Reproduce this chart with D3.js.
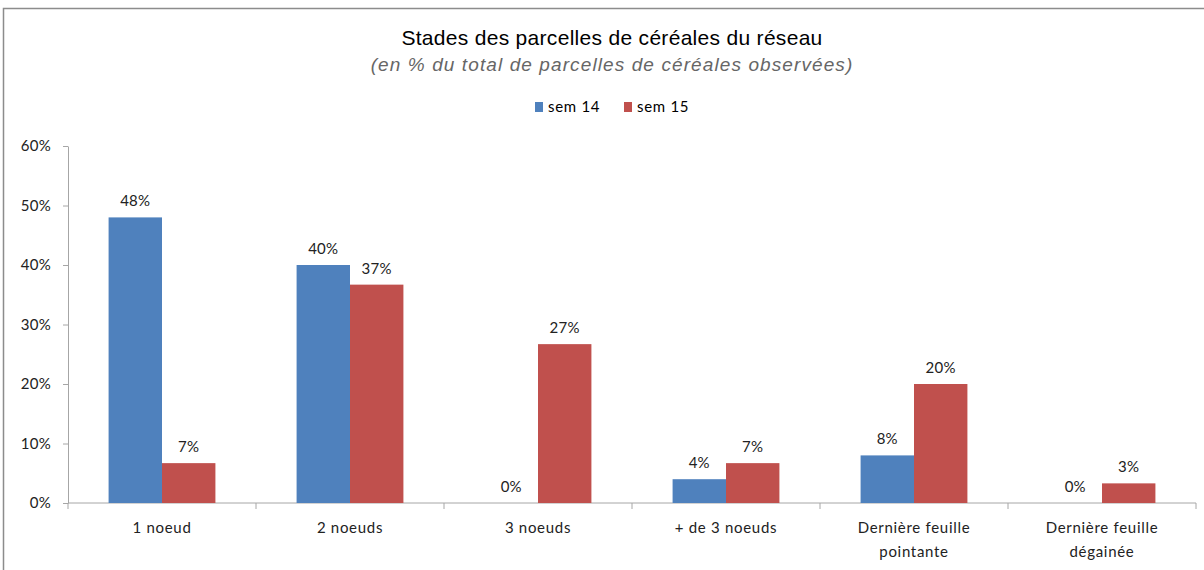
<!DOCTYPE html>
<html><head><meta charset="utf-8">
<script src="https://cdn.jsdelivr.net/npm/d3@7"></script>
<style>body{margin:0;background:#fff;}svg{display:block;}</style>
</head><body>
<svg id="c" width="1204" height="570"></svg>
<script>
const categories = [["1 noeud"],["2 noeuds"],["3 noeuds"],["+ de 3 noeuds"],["Dernière feuille","pointante"],["Dernière feuille","dégainée"]];
const seriesNames = ["sem 14","sem 15"];
const sem14 = [48, 40, 0, 4, 8, 0];
const sem15 = [6.7, 36.7, 26.7, 6.7, 20, 3.3];
const yTicks = [0,10,20,30,40,50,60];
const colors = ["#4F81BD","#C0504D"];

(function(){
const svg = d3.select("#c");
const font = "Liberation Sans Narrow, Arial Narrow, sans-serif";
const lfont = "Lato, 'Open Sans', sans-serif";
const ls = "0.7px";
// border
svg.append("rect").attr("x",3.5).attr("y",8.5).attr("width",1210).attr("height",600)
  .attr("fill","none").attr("stroke","#8c8c8c").attr("stroke-width",1.5);

const pL=68, pR=1196, pT=146, pB=503;
const x = d3.scaleBand().domain(d3.range(categories.length)).range([pL,pR]).paddingInner(0).paddingOuter(0);
const y = d3.scaleLinear().domain([0,60]).range([pB,pT]);
const inner = d3.scaleBand().domain([0,1]).range([0,x.bandwidth()]).paddingOuter(0.76).paddingInner(0);

// title
svg.append("text").attr("x",612).attr("y",45).attr("text-anchor","middle")
  .style("font-family",font).style("font-size","21px").style("letter-spacing","0.3px").attr("fill","#000")
  .text("Stades des parcelles de céréales du réseau");
svg.append("text").attr("x",612).attr("y",71).attr("text-anchor","middle")
  .style("font-family","Liberation Sans, Arial, sans-serif").style("font-style","italic").style("font-size","19px").style("letter-spacing","1.1px").attr("fill","#666")
  .text("(en %  du total de parcelles de céréales observées)");

// legend
const leg = [[535,seriesNames[0]],[624,seriesNames[1]]];
leg.forEach((d,i)=>{
  svg.append("rect").attr("x",d[0]).attr("y",102).attr("width",8).attr("height",10).attr("fill",colors[i]);
  svg.append("text").attr("x",d[0]+13).attr("y",112).style("font-family",lfont).style("font-size","15px").style("letter-spacing",ls).attr("fill","#000").text(d[1]);
});

// y axis
const yAxis = svg.append("g").attr("transform",`translate(${pL},0)`)
  .call(d3.axisLeft(y).tickValues(yTicks).tickSize(5).tickSizeOuter(0).tickFormat(d=>d+"%"));
yAxis.select(".domain").attr("stroke","#a6a6a6");
yAxis.selectAll(".tick line").attr("stroke","#a6a6a6");
yAxis.selectAll(".tick text").attr("x",-17).style("font-family",lfont).style("font-size","15px").style("letter-spacing","0.3px").attr("fill","#222");

// x axis
const xAxisG = svg.append("g").attr("transform",`translate(0,${pB})`);
xAxisG.append("line").attr("x1",pL).attr("x2",pR).attr("stroke","#a6a6a6");
d3.range(categories.length+1).forEach(i=>{
  const xx = i<categories.length ? x(i) : x(categories.length-1)+x.bandwidth();
  xAxisG.append("line").attr("x1",xx).attr("x2",xx).attr("y1",0).attr("y2",6).attr("stroke","#a6a6a6");
});
categories.forEach((lines,i)=>{
  const t = svg.append("text").attr("text-anchor","middle").style("font-family",lfont).style("font-size","15px").style("letter-spacing",ls).attr("fill","#222");
  lines.forEach((l,j)=>t.append("tspan").attr("x",x(i)+x.bandwidth()/2).attr("y",533+j*24).text(l));
});

// bars
[sem14,sem15].forEach((vals,s)=>{
  const g = svg.append("g");
  g.selectAll("rect").data(vals).join("rect")
    .attr("x",(d,i)=>x(i)+inner(s)).attr("width",inner.bandwidth())
    .attr("y",d=>y(d)).attr("height",d=>pB-y(d)).attr("fill",colors[s]);
  g.selectAll("text").data(vals).join("text")
    .attr("x",(d,i)=>x(i)+inner(s)+inner.bandwidth()/2).attr("y",d=>y(d)-11)
    .attr("text-anchor","middle").style("font-family",lfont).style("font-size","15px").style("letter-spacing","0.3px").attr("fill","#222")
    .text(d=>Math.round(d)+"%");
});
})();
</script>
</body></html>
